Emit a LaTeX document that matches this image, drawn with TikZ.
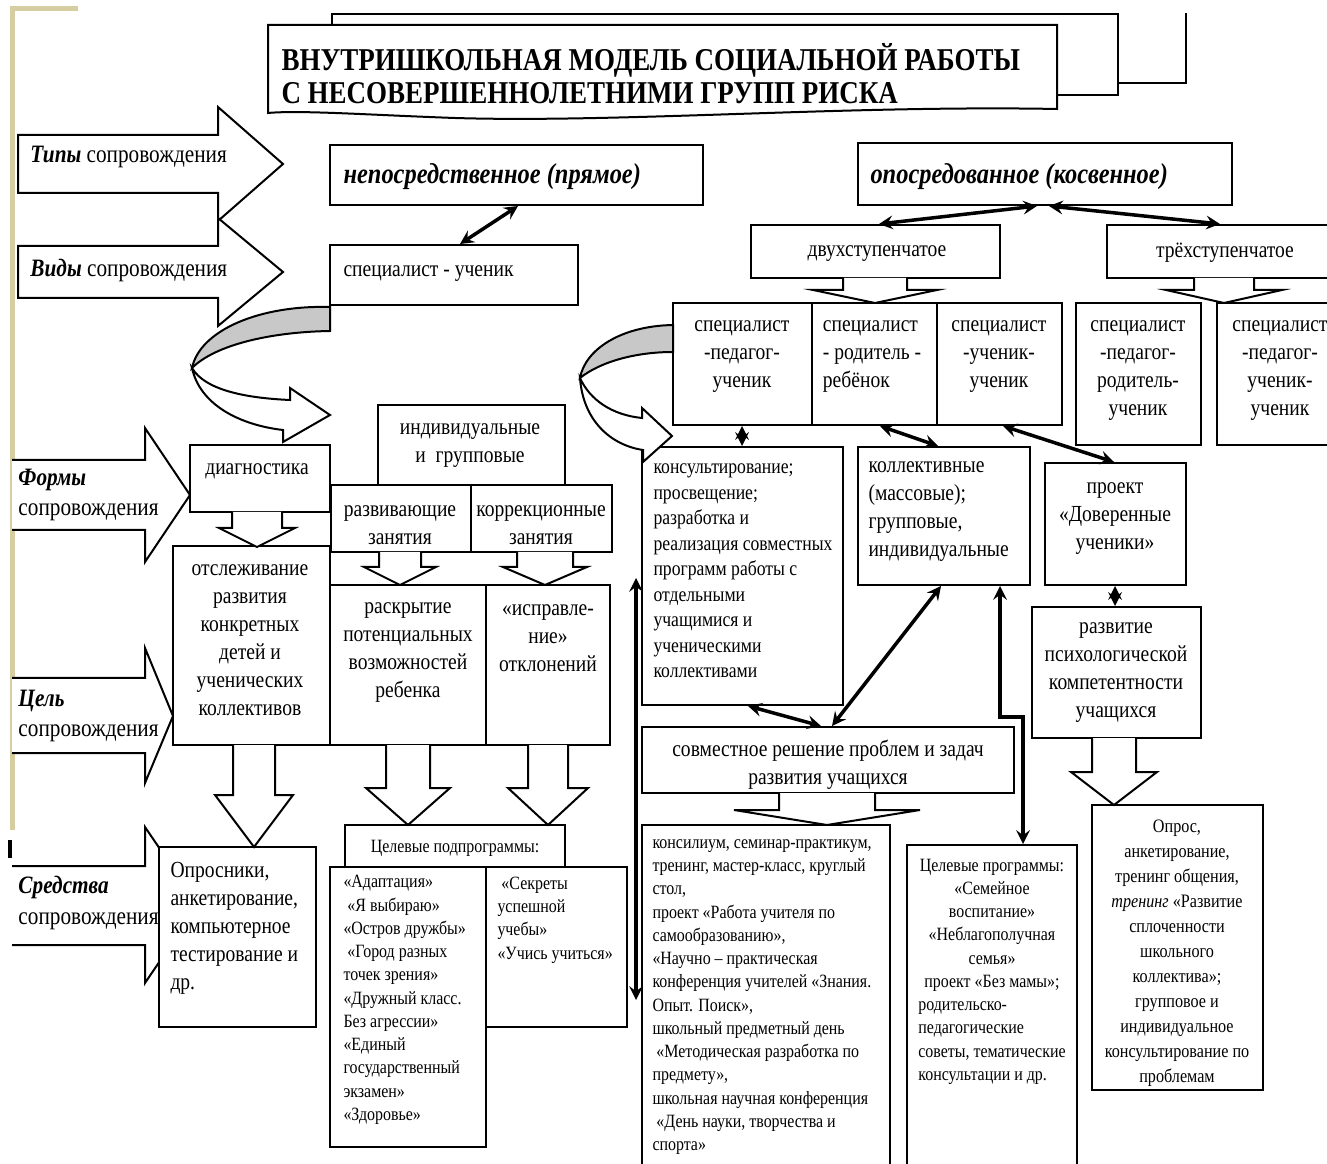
\documentclass[tikz,border=0pt]{standalone}
\usepackage{fontspec}
\setmainfont{Liberation Serif}[FakeStretch=0.85]
\usetikzlibrary{fit}
\definecolor{bandgray}{RGB}{200,200,200}
\definecolor{edgebeige}{RGB}{214,206,160}
\newcommand{\ftitle}{\fontsize{12.7}{13.2}\selectfont\bfseries}
\newcommand{\flabel}{\fontsize{10}{12.1}\selectfont}
\newcommand{\fhead}{\fontsize{11.5}{13}\selectfont\bfseries\itshape}
\newcommand{\fbody}{\fontsize{9.2}{11.2}\selectfont}
\newcommand{\fmid}{\fontsize{8.3}{10.2}\selectfont}
\newcommand{\fsmall}{\fontsize{7.5}{9.3}\selectfont}
% hollow arrow down: centre x, half stem, top y, head y, half head, tip y
\newcommand{\blockdown}[6]{\draw[blk] ({#1-#2},#3) -- ({#1-#2},#4) -- ({#1-#5},#4) -- (#1,#6) -- ({#1+#5},#4) -- ({#1+#2},#4) -- ({#1+#2},#3);}
\begin{document}
\begin{tikzpicture}[x=0.4pt,y=-0.4pt,>=stealth,
	box/.style={draw,line width=0.8pt,fill=white,inner sep=0pt},
	blk/.style={draw,line width=0.8pt,fill=white},
	dbl/.style={<->,line width=1.4pt},
	txt/.style={inner sep=0pt,align=center,font=\fbody},
	ltxt/.style={txt,align=left,anchor=west}]
	\useasboundingbox (0,0) rectangle (1327,1164);
	\fill[white] (0,0) rectangle (1327,1164);
	\draw[edgebeige,line width=2pt] (78,9)--(12,9)--(12,830);
	\draw[line width=1.5pt] (10,840)--(10,858);
	% title
	\draw[line width=0.8pt] (1186,13)--(1186,83)--(1118,83);
	\draw[blk] (332,14) rectangle (1118,95);
	\draw[blk] (268,25)--(1057,25)--(1057,109) .. controls (850,105) and (620,123) .. (455,118) .. controls (370,115) and (300,110) .. (268,113)--cycle;
	\node[ltxt,font=\ftitle] (title) at (281,74) {ВНУТРИШКОЛЬНАЯ МОДЕЛЬ СОЦИАЛЬНОЙ РАБОТЫ\\С НЕСОВЕРШЕННОЛЕТНИМИ ГРУПП РИСКА};
	% left arrows
	\draw[blk] (18,135)--(218,135)--(218,107)--(283,164)--(218,221)--(218,193)--(18,193)--cycle;
	\draw[blk] (18,246)--(218,246)--(218,218)--(283,272)--(218,326)--(218,298)--(18,298)--cycle;
	\draw[blk] (12,460)--(145,460)--(145,428)--(190,495)--(145,562)--(145,530)--(12,530);
	\draw[blk] (12,678)--(145,678)--(145,648)--(173,716)--(145,783)--(145,753)--(12,753);
	\draw[blk] (12,866)--(145,866)--(145,827)--(198,905)--(145,983)--(145,945)--(12,945);
	% boxes
	\node[box,fit={(330,145) (703,205)}] (direct) {};
	\node[box,fit={(858,143) (1232,205)}] (indirect) {};
	\node[box,fit={(330,245) (578,305)}] (student) {};
	\node[box,fit={(751,225) (1000,278)}] (twostep) {};
	\node[box,fit={(1107,225) (1335,278)}] (threestep) {};
	\node[box,fit={(673,303) (812,425)}] (spA) {};
	\node[box,fit={(812,303) (937,425)}] (spB) {};
	\node[box,fit={(937,303) (1062,425)}] (spC) {};
	\node[box,fit={(1076,303) (1201,445)}] (spD) {};
	\node[box,fit={(1217,303) (1335,445)}] (spE) {};
	\node[box,fit={(378,405) (565,485)}] (indgroup) {};
	\node[box,fit={(190,445) (330,512)}] (diag) {};
	\node[box,fit={(331,485) (471,552)}] (develop) {};
	\node[box,fit={(471,485) (612,552)}] (correct) {};
	\node[box,fit={(173,546) (330,745)}] (track) {};
	\node[box,fit={(330,585) (486,745)}] (reveal) {};
	\node[box,fit={(486,585) (610,745)}] (fix) {};
	\node[box,fit={(159,847) (316,1027)}] (tools) {};
	\node[box,fit={(345,825) (565,867)}] (subprog) {};
	\node[box,fit={(330,867) (486,1147)}] (listA) {};
	\node[box,fit={(486,867) (627,1027)}] (listB) {};
	\node[box,fit={(642,447) (843,705)}] (consult) {};
	\node[box,fit={(858,447) (1030,585)}] (collective) {};
	\node[box,fit={(1045,463) (1186,585)}] (project) {};
	\node[box,fit={(1032,607) (1201,738)}] (psych) {};
	\node[box,fit={(642,727) (1014,793)}] (joint) {};
	\node[box,fit={(642,825) (890,1180)}] (events) {};
	\node[box,fit={(907,845) (1077,1180)}] (targets) {};
	\node[box,fit={(1092,805) (1263,1090)}] (survey) {};
	% hollow arrows down
	\blockdown{875}{32}{278}{290}{62}{303}
	\blockdown{1224}{30}{278}{290}{58}{303}
	\blockdown{257}{25}{512}{528}{38}{547}
	\blockdown{400}{21}{552}{567}{36}{585}
	\blockdown{545}{28}{552}{567}{42}{585}
	\blockdown{254}{21}{745}{795}{39}{847}
	\blockdown{408}{22}{745}{788}{42}{825}
	\blockdown{548}{20}{745}{788}{40}{825}
	\blockdown{827}{48}{793}{810}{93}{825}
	\blockdown{1114}{22}{738}{772}{43}{805}
	% connectors
	\coordinate (linetop) at (636,578);
	\coordinate (linebot) at (636,1000);
	\draw[dbl] (direct.south -| 518,0)--(student.north -| 460,0);
	\draw[dbl] (indirect.south -| 1037,0)--(twostep.north -| 879,0);
	\draw[dbl] (indirect.south -| 1049,0)--(threestep.north -| 1220,0);
	\draw[dbl] (spA.south -| 742,0)--(consult.north -| 742,0);
	\draw[dbl] (spB.south -| 880,0)--(collective.north -| 938,0);
	\draw[dbl] (spC.south -| 1003,0)--(project.north -| 1114,0);
	\draw[dbl] (project.south -| 1115,0)--(psych.north -| 1115,0);
	\draw[dbl] (consult.south -| 748,0)--(joint.north -| 821,0);
	\draw[dbl] (joint.north -| 832,0)--(collective.south -| 941,0);
	\draw[dbl] (collective.south -| 1000,0)--(1000,717)--(1023,717)--(targets.north -| 1023,0);
	\draw[dbl] (linetop)--(linebot);
	% curved arrows
	\filldraw[fill=bandgray,line width=0.8pt] (330,307) .. controls (260,305) and (200,330) .. (192,368) .. controls (215,345) and (270,332) .. (330,331)--cycle;
	\draw[blk] (192,368) .. controls (200,405) and (240,425) .. (283,430)--(283,442)--(330,415)--(290,388)--(290,400) .. controls (245,398) and (205,390) .. (192,368)--cycle;
	\filldraw[fill=bandgray,line width=0.8pt] (673,325) .. controls (620,326) and (585,350) .. (580,378) .. controls (600,362) and (635,352) .. (673,352)--cycle;
	\draw[blk] (580,378) .. controls (583,420) and (610,445) .. (643,450)--(643,462)--(672,436)--(642,408)--(642,418) .. controls (612,415) and (590,400) .. (580,378)--cycle;
	% texts
	\node[ltxt,font=\flabel] (typelbl) at (30,157) {\textbf{\textit{Типы}} сопровождения};
	\node[ltxt,font=\flabel] (kindlbl) at (30,270) {\textbf{\textit{Виды}} сопровождения};
	\node[ltxt,font=\flabel] (formlbl) at (18,495) {\textbf{\textit{Формы}}\\сопровождения};
	\node[ltxt,font=\flabel] (goallbl) at (18,716) {\textbf{\textit{Цель}}\\сопровождения};
	\node[ltxt,font=\flabel] (meanslbl) at (18,903) {\textbf{\textit{Средства}}\\сопровождения};
	\node[ltxt,font=\fhead] (directtxt) at (343,177) {непосредственное (прямое)};
	\node[ltxt,font=\fhead] (indirecttxt) at (870,177) {опосредованное (косвенное)};
	\node[ltxt] (studenttxt) at (343,274) {специалист - ученик};
	\node[txt] (twosteptxt) at (877,254) {двухступенчатое};
	\node[txt] (threesteptxt) at (1225,253) {трёхступенчатое};
	\node[txt] (spAtxt) at (742,357) {специалист\\-педагог-\\ученик};
	\node[txt,align=left] (spBtxt) at (872,357) {специалист\\- родитель -\\ребёнок};
	\node[txt] (spCtxt) at (999,357) {специалист\\-ученик-\\ученик};
	\node[txt] (spDtxt) at (1138,371) {специалист\\-педагог-\\родитель-\\ученик};
	\node[txt] (spEtxt) at (1280,371) {специалист\\-педагог-\\ученик-\\ученик};
	\node[txt] (indgrouptxt) at (470,446) {индивидуальные\\и\ \ групповые};
	\node[txt] (diagtxt) at (257,471) {диагностика};
	\node[txt] (developtxt) at (400,525) {развивающие\\занятия};
	\node[txt] (correcttxt) at (541,525) {коррекционные\\занятия};
	\node[txt] (tracktxt) at (250,640) {отслеживание\\развития\\конкретных\\детей и\\ученических\\коллективов};
	\node[txt] (revealtxt) at (408,653) {раскрытие\\потенциальных\\возможностей\\ребенка};
	\node[txt] (fixtxt) at (548,638) {«исправле-\\ние»\\отклонений};
	\node[ltxt] (toolstxt) at (170,928) {Опросники,\\анкетирование,\\компьютерное\\тестирование и\\др.};
	\node[txt,font=\fsmall] (subprogtxt) at (455,848) {Целевые подпрограммы:};
	\node[ltxt,font=\fsmall] (listAtxt) at (343,1000) {«Адаптация»\\\ «Я выбираю»\\«Остров дружбы»\\\ «Город разных\\точек зрения»\\«Дружный класс.\\Без агрессии»\\«Единый\\государственный\\экзамен»\\«Здоровье»};
	\node[ltxt,font=\fsmall] (listBtxt) at (497,920) {\ «Секреты\\успешной\\учебы»\\«Учись учиться»};
	\node[ltxt,font=\fmid] (consulttxt) at (653,571) {консультирование;\\просвещение;\\разработка и\\реализация совместных\\программ работы с\\отдельными\\учащимися и\\ученическими\\коллективами};
	\node[ltxt] (collectivetxt) at (868,512) {коллективные\\(массовые);\\групповые,\\индивидуальные};
	\node[txt] (projecttxt) at (1115,519) {проект\\«Доверенные\\ученики»};
	\node[txt] (psychtxt) at (1116,673) {развитие\\психологической\\компетентности\\учащихся};
	\node[txt] (jointtxt) at (828,765) {совместное решение проблем и задач\\развития учащихся};
	\node[ltxt,font=\fsmall] (eventstxt) at (652,997) {консилиум, семинар-практикум,\\тренинг, мастер-класс, круглый\\стол,\\проект «Работа учителя по\\самообразованию»,\\«Научно – практическая\\конференция учителей «Знания.\\Опыт. Поиск»,\\школьный предметный день\\\ «Методическая разработка по\\предмету»,\\школьная научная конференция\\\ «День науки, творчества и\\спорта»};
	\node[txt,font=\fsmall] (targetstxt) at (992,971) {\begin{tabular}{@{}c@{}}Целевые программы:\\«Семейное\\воспитание»\\«Неблагополучная\\семья»\\проект «Без мамы»;\\\multicolumn{1}{@{}l@{}}{родительско-}\\\multicolumn{1}{@{}l@{}}{педагогические}\\советы, тематические\\\multicolumn{1}{@{}l@{}}{консультации и др.}\end{tabular}};
	\node[txt,font=\fontsize{7.6}{10}\selectfont] (surveytxt) at (1177,953) {Опрос,\\анкетирование,\\тренинг общения,\\\textit{тренинг} «Развитие\\сплоченности\\школьного\\коллектива»;\\групповое и\\индивидуальное\\консультирование по\\проблемам};
\end{tikzpicture}
\end{document}
